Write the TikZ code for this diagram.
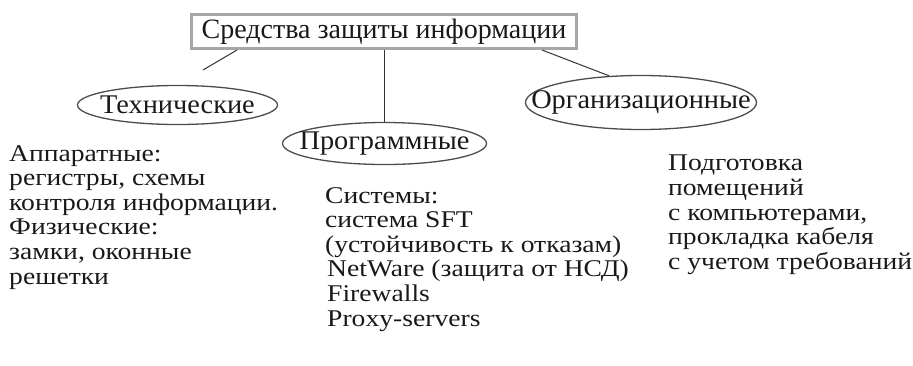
\documentclass[tikz,border=0pt]{standalone}
\usepackage{fontspec}
\setmainfont{Liberation Serif}
\newfontfamily\widefont[FakeStretch=1.15]{Liberation Serif}
\newfontfamily\ovalfont[FakeStretch=1.05]{Liberation Serif}
\usetikzlibrary{shapes.geometric}
\begin{document}
\begin{tikzpicture}[x=1pt, y=-1pt]
        \tikzstyle{blk} = [draw, black!80, line width=1pt]
        \tikzstyle{oval} = [draw=black!70, text=black!90, line width=1.3pt, ellipse, inner xsep=-30pt, inner ysep=-5pt, font=\ovalfont\fontsize{27}{30}\selectfont]
        \tikzstyle{txt} = [anchor=north west, align=left, inner sep=0pt, text=black!90, font=\widefont\fontsize{24}{24.6}\selectfont]
        \useasboundingbox (0, 0) rectangle (913, 365);

        \node[draw=black!35, line width=3pt, minimum width=385pt, minimum height=34pt, font=\fontsize{28}{30}\selectfont, text=black!90] (title) at (384, 31.5) {Средства защиты информации};
        \node[oval, minimum width=200pt, minimum height=39pt] (tech) at (177.5, 105) {Технические};
        \node[oval, minimum width=204pt, minimum height=42pt] (prog) at (384.5, 143.5) {Программные};
        \node[oval, minimum width=231pt, minimum height=54pt] (org) at (641, 102.5) {Организационные};

        \node[txt] (tech list) at (9, 145) {Аппаратные:\\регистры, схемы\\контроля информации.\\Физические:\\замки, оконные\\решетки};
        \node[txt] (prog list) at (325, 187) {Системы:\\система SFT\\(устойчивость к отказам)\\\hspace{2pt}NetWare (защита от НСД)\\\hspace{2pt}Firewalls\\\hspace{2pt}Proxy-servers};
        \node[txt] (org list) at (668, 155) {Подготовка\\помещений\\с компьютерами,\\прокладка кабеля\\с учетом требований};

        \coordinate (title left) at (237, 50);
        \coordinate (tech end) at (203, 70);
        \coordinate (title right) at (542, 50);

        \path[blk] (title left) to (tech end);
        \path[blk] (title.south -| prog.north) to (prog.north);
        \path[blk] (title right) to (org.140);
    \end{tikzpicture}
\end{document}
